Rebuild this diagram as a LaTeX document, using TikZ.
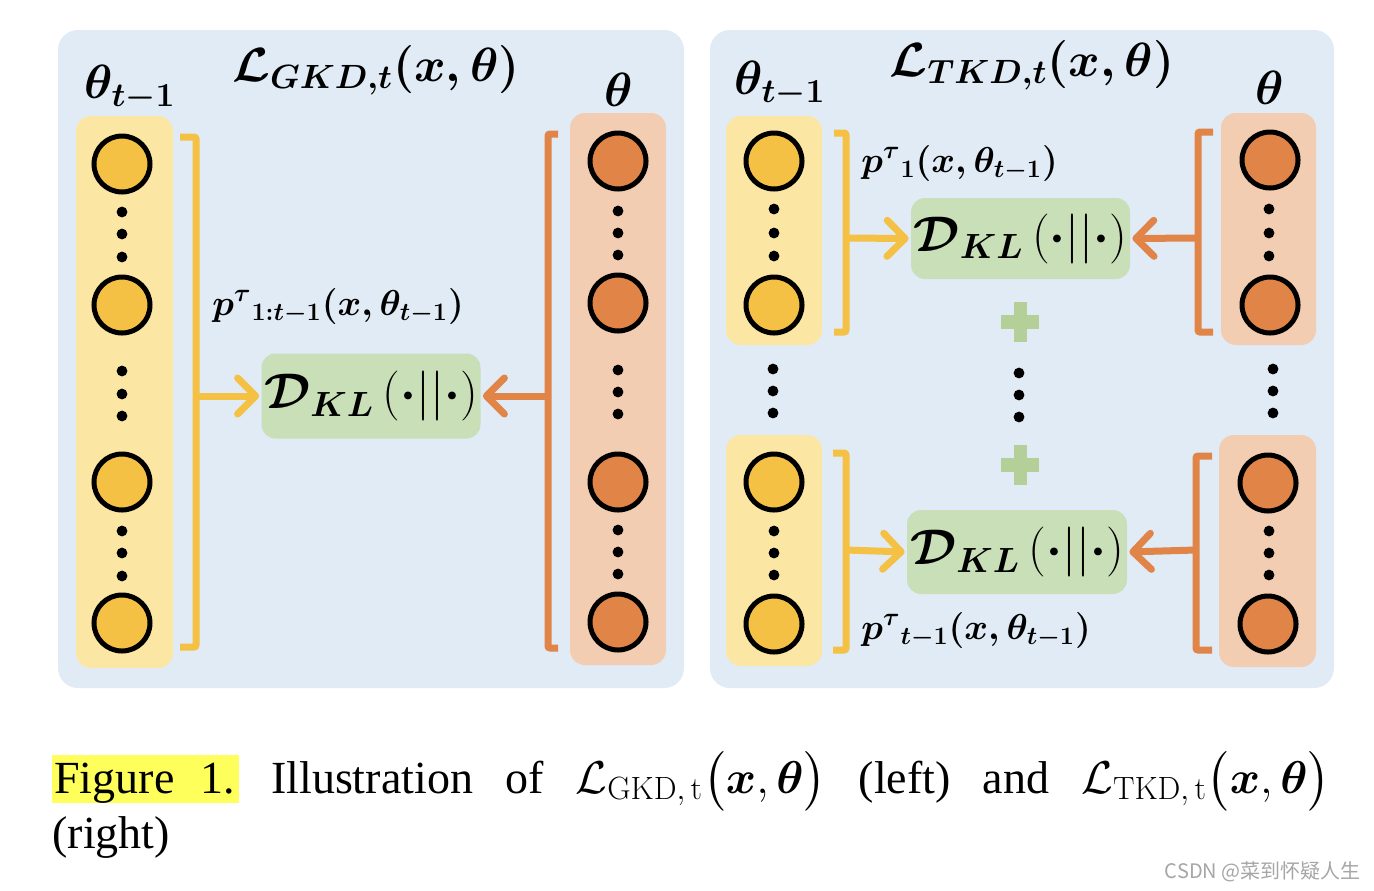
\RequirePackage{fix-cm}
\documentclass[tikz,border=0pt]{standalone}
\usepackage{fontspec}
\usepackage{amsmath,bm}
\newfontfamily\capfont{Liberation Serif}
\newfontfamily\cjkfont{Noto Sans CJK SC}
\usetikzlibrary{arrows.meta}

\definecolor{panelblue}{HTML}{E0EBF6}
\definecolor{colyellow}{HTML}{FCE6A4}
\definecolor{colorange}{HTML}{F3CDB2}
\definecolor{neuyellow}{HTML}{F5C144}
\definecolor{neuorange}{HTML}{E08448}
\definecolor{klgreen}{HTML}{C9DFB8}
\definecolor{plusgreen}{HTML}{B4CF98}
\definecolor{hiyellow}{HTML}{FFFF5C}

\begin{document}
\begin{tikzpicture}[x=0.5pt, y=-0.5pt,
  panel/.style={fill=panelblue, rounded corners=10pt},
  colY/.style={fill=colyellow, rounded corners=7.5pt},
  colO/.style={fill=colorange, rounded corners=7.5pt},
  neuY/.style={circle, draw=black, line width=2.5pt, fill=neuyellow,
               minimum size=28pt, inner sep=0pt},
  neuO/.style={neuY, fill=neuorange},
  kl/.style={fill=klgreen, rounded corners=7pt, inner sep=0pt,
             minimum width=109.5pt, minimum height=41pt,
             font=\fontsize{25}{29}\selectfont},
  ttl/.style={font=\fontsize{24}{28}\selectfont\boldmath},
  thl/.style={font=\fontsize{24}{28}\selectfont\boldmath},
  pl/.style={font=\fontsize{18}{21}\selectfont\boldmath, inner sep=0pt},
  brY/.style={draw=neuyellow, line width=3.5pt, rounded corners=1pt},
  brO/.style={brY, draw=neuorange},
  arrY/.style={draw=neuyellow, line width=3.5pt, shorten >=1pt,
               -{Straight Barb[length=9pt, width=18pt, round]}},
  arrO/.style={arrY, draw=neuorange}]

  \fill[white] (0,0) rectangle (1374,890);
  \useasboundingbox (0,0) rectangle (1374,890);

  % left panel: L_GKD
  \fill[panel] (58,30) rectangle (684,688);
  \fill[colY] (76,116) rectangle (173,668);
  \fill[colO] (570,113) rectangle (666,665);
  \foreach \y [count=\i] in {164,305,482,623}
    \node[neuY] (gy\i) at (122,\y) {};
  \foreach \y [count=\i] in {161,303,482,622}
    \node[neuO] (go\i) at (618,\y) {};
  \foreach \y in {212,234,257,371,394,416,531,553,576}
    \fill (122,\y) circle (2.7pt);
  \foreach \y in {211,233,255,370,392,414,530,552,574}
    \fill (618,\y) circle (2.7pt);

  \node[ttl] (gttl) at (376,70) {$\mathcal{L}_{GKD,t}(x,\theta)$};
  \node[thl] (gthp) at (130,88) {$\theta_{t-1}$};
  \node[thl] (gth) at (619,90) {$\theta$};

  \draw[brY] (180,137) -- (196,137) -- (196,647) -- (180,647);
  \draw[brO] (558,134) -- (548,134) -- (548,648) -- (558,648);
  \coordinate (gbrY) at (196,396);
  \coordinate (gbrO) at (548,396);

  \node[kl, minimum height=42.5pt] (gkl) at (371,396)
       {$\bm{\mathcal{D}_{KL}}\,(\bm{\cdot}||\bm{\cdot})$};
  \node[pl, anchor=west] (gp) at (212,306)
       {$p^{\tau}{}_{1:t-1}(x,\theta_{t-1})$};

  \draw[arrY] (gbrY) -- (gkl.west);
  \draw[arrO] (gbrO) -- (gkl.east);

  % right panel: L_TKD
  \fill[panel] (710,30) rectangle (1334,688);
  \fill[colY] (726,116) rectangle (822,345);
  \fill[colY] (726,435) rectangle (822,666);
  \fill[colO] (1221,113) rectangle (1316,345);
  \fill[colO] (1219,435) rectangle (1316,667);
  \foreach \y [count=\i] in {161,305,482,624}
    \node[neuY] (ty\i) at (774,\y) {};
  \node[neuO] (to1) at (1270,160) {};
  \node[neuO] (to2) at (1270,305) {};
  \node[neuO] (to3) at (1268,483) {};
  \node[neuO] (to4) at (1268,624) {};
  \foreach \y in {209,233,256,531,553,575}
    \fill (774,\y) circle (2.7pt);
  \foreach \y in {209,233,256,531,553,575}
    \fill (1269,\y) circle (2.7pt);
  \foreach \y in {369,391,413}
    \fill (773,\y) circle (2.7pt)
          (1273,\y) circle (2.7pt);
  \foreach \y in {373,395,417}
    \fill (1019,\y) circle (2.7pt);
  % plus signs
  \foreach \y in {322,465} {
    \fill[plusgreen] (1001,\y-7) rectangle (1039,\y+7);
    \fill[plusgreen] (1014,\y-20) rectangle (1027,\y+20);
  }

  \node[ttl] (tttl) at (1032,65) {$\mathcal{L}_{TKD,t}(x,\theta)$};
  \node[thl] (tthp) at (780,84) {$\theta_{t-1}$};
  \node[thl] (tth) at (1270,88) {$\theta$};

  \draw[brY] (834,133) -- (846,133) -- (846,332) -- (834,332);
  \draw[brO] (1213,132) -- (1198,132) -- (1198,332) -- (1213,332);
  \draw[brY] (833,453) -- (846,453) -- (846,650) -- (833,650);
  \draw[brO] (1212,456) -- (1196,456) -- (1196,650) -- (1212,650);
  \coordinate (tbrY1) at (846,238);
  \coordinate (tbrO1) at (1198,238);
  \coordinate (tbrY2) at (846,550);
  \coordinate (tbrO2) at (1196,550);

  \node[kl, minimum height=40.5pt] (tkl1) at (1020.5,238.5)
       {$\bm{\mathcal{D}_{KL}}\,(\bm{\cdot}||\bm{\cdot})$};
  \node[kl, minimum width=110pt, minimum height=42pt] (tkl2) at (1017,552)
       {$\bm{\mathcal{D}_{KL}}\,(\bm{\cdot}||\bm{\cdot})$};
  \node[pl, anchor=west] (tp1) at (861,163)
       {$p^{\tau}{}_{1}(x,\theta_{t-1})$};
  \node[pl, anchor=west] (tp2) at (861,630)
       {$p^{\tau}{}_{t-1}(x,\theta_{t-1})$};

  \draw[arrY] (tbrY1) -- (tkl1.west);
  \draw[arrO] (tbrO1) -- (tkl1.east);
  \draw[arrY] (tbrY2) -- (tkl2.west);
  \draw[arrO] (tbrO2) -- (tkl2.east);

  % caption
  \node[anchor=base west, inner sep=0pt, font=\capfont\fontsize{23}{27}\selectfont]
       (cap1) at (52,793) {\makebox[639pt][s]{\setlength{\fboxsep}{0pt}%
       \colorbox{hiyellow}{\rule[-5pt]{0pt}{24pt}\hspace{1pt}Figure\hspace{13pt}1.\hspace{2pt}}
       Illustration of
       $\mathcal{L}_{\mathrm{GKD,\,t}}\big(\bm{x},\bm{\theta}\big)$ (left) and
       $\mathcal{L}_{\mathrm{TKD,\,t}}\big(\bm{x},\bm{\theta}\big)$}};
  \node[anchor=base west, inner sep=0pt, font=\capfont\fontsize{23}{27}\selectfont]
       (cap2) at (52,848) {(right)};
  \node[anchor=east, inner sep=0pt, text=black!35,
        font=\cjkfont\fontsize{10}{12}\selectfont] (wm) at (1361,872)
       {CSDN @菜到怀疑人生};
\end{tikzpicture}
\end{document}
